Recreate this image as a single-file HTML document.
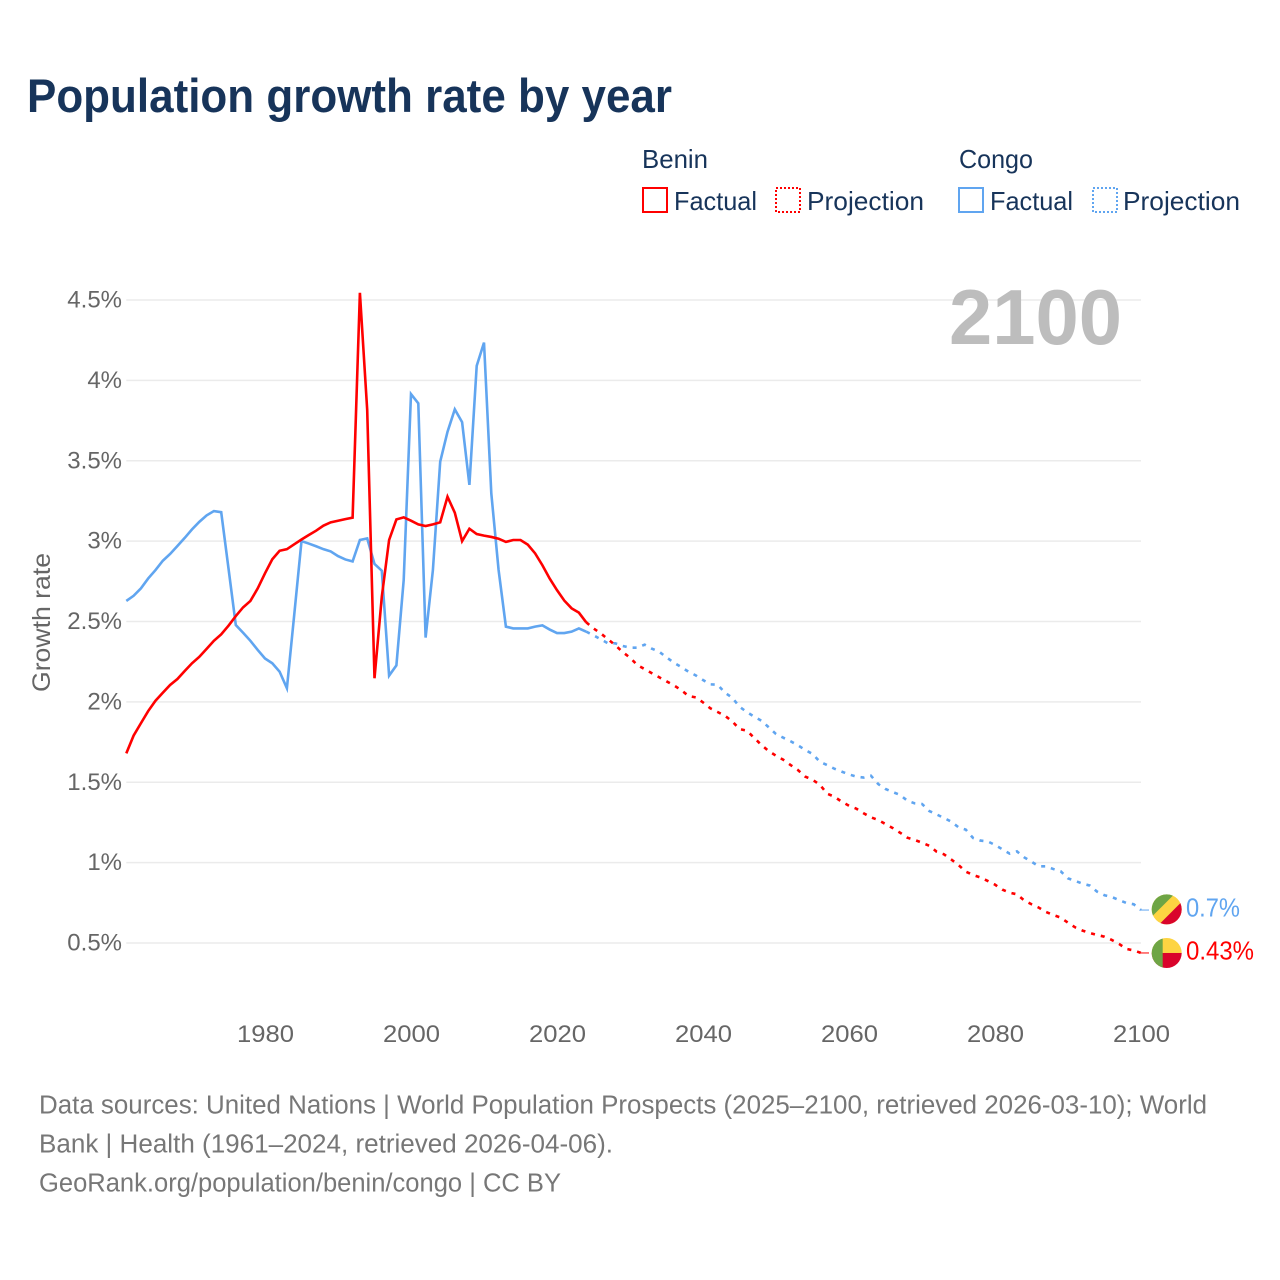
<!DOCTYPE html>
<html lang="en">
<head>
<meta charset="utf-8">
<title>Population growth rate by year</title>
<style>
  html, body { margin: 0; padding: 0; background: #fff; }
  svg { display: block; }
  text { font-family: "Liberation Sans", sans-serif; }
  .legend { fill: #17345a; font-size: 26px; }
  .tick { fill: #666; font-size: 24px; }
  .foot { fill: #777; font-size: 25.5px; }
</style>
</head>
<body>
<svg id="chart" width="1280" height="1280" viewBox="0 0 1280 1280" xmlns="http://www.w3.org/2000/svg">
  <defs>
    <clipPath id="flag-clip"><circle cx="0" cy="0" r="15"></circle></clipPath>
  </defs>
  <rect x="0" y="0" width="1280" height="1280" fill="#fff"></rect>

  <text x="27" y="112" font-size="47" font-weight="700" fill="#17345a" textLength="645" lengthAdjust="spacingAndGlyphs">Population growth rate by year</text>

  <g>
    <text class="legend" x="642" y="168" textLength="66" lengthAdjust="spacingAndGlyphs">Benin</text>
    <text class="legend" x="959" y="168" textLength="74" lengthAdjust="spacingAndGlyphs">Congo</text>
    <rect x="643" y="188" width="24" height="24" fill="none" stroke="#ff0000" stroke-width="2"></rect>
    <text class="legend" x="674" y="210" textLength="83" lengthAdjust="spacingAndGlyphs">Factual</text>
    <rect x="776" y="188" width="24" height="24" fill="none" stroke="#ff0000" stroke-width="2" stroke-dasharray="2 2"></rect>
    <text class="legend" x="807" y="210" textLength="117" lengthAdjust="spacingAndGlyphs">Projection</text>
    <rect x="959" y="188" width="24" height="24" fill="none" stroke="#60a5f0" stroke-width="2"></rect>
    <text class="legend" x="990" y="210" textLength="83" lengthAdjust="spacingAndGlyphs">Factual</text>
    <rect x="1093" y="188" width="24" height="24" fill="none" stroke="#60a5f0" stroke-width="2" stroke-dasharray="2 2"></rect>
    <text class="legend" x="1123" y="210" textLength="117" lengthAdjust="spacingAndGlyphs">Projection</text>
  </g>

  <g id="grid"></g>
  <g id="y-ticks"></g>
  <g id="x-ticks"></g>

  <text transform="translate(50 622.5) rotate(-90)" text-anchor="middle" font-size="25" fill="#666" textLength="139" lengthAdjust="spacingAndGlyphs">Growth rate</text>

  <text x="949" y="344" font-size="78" font-weight="700" fill="#bdbdbd" textLength="173" lengthAdjust="spacingAndGlyphs">2100</text>

  <g id="series"></g>

  <g id="flag-congo">
    <g clip-path="url(#flag-clip)">
      <rect x="-16" y="-16" width="32" height="32" fill="#fdd442"></rect>
      <polygon points="-20,12.5 12.5,-20 -20,-20" fill="#6ea545"></polygon>
      <polygon points="20,-12.5 -12.5,20 20,20" fill="#d9042b"></polygon>
    </g>
  </g>
  <g id="flag-benin">
    <g clip-path="url(#flag-clip)">
      <rect x="-16" y="-16" width="32" height="16" fill="#fdd442"></rect>
      <rect x="-16" y="0" width="32" height="16" fill="#d9042b"></rect>
      <rect x="-16" y="-16" width="12" height="32" fill="#6ea545"></rect>
    </g>
  </g>
  <text id="value-congo" x="1186" font-size="25.5" fill="#60a5f0" textLength="54" lengthAdjust="spacingAndGlyphs"></text>
  <text id="value-benin" x="1186" font-size="25.5" fill="#ff0000" textLength="68" lengthAdjust="spacingAndGlyphs"></text>

  <g>
    <text class="foot" x="39" y="1113.5" textLength="1168" lengthAdjust="spacingAndGlyphs">Data sources: United Nations | World Population Prospects (2025–2100, retrieved 2026-03-10); World</text>
    <text class="foot" x="39" y="1152.5" textLength="574" lengthAdjust="spacingAndGlyphs">Bank | Health (1961–2024, retrieved 2026-04-06).</text>
    <text class="foot" x="39" y="1191.5" textLength="522" lengthAdjust="spacingAndGlyphs">GeoRank.org/population/benin/congo | CC BY</text>
  </g>
</svg>

<script>
const factualStartYear = 1961;
const projectionStartYear = 2024;

const yTickValues = [0.5, 1, 1.5, 2, 2.5, 3, 3.5, 4, 4.5];
const yTickLabels = ["0.5%", "1%", "1.5%", "2%", "2.5%", "3%", "3.5%", "4%", "4.5%"];
const xTickYears = [1980, 2000, 2020, 2040, 2060, 2080, 2100];

const beninFactual = [
  1.68, 1.79, 1.867, 1.943, 2.007, 2.057, 2.105, 2.142, 2.192, 2.24,
  2.28, 2.33, 2.38, 2.42, 2.474, 2.534, 2.588, 2.628, 2.706, 2.80,
  2.887, 2.94, 2.95, 2.98, 3.01, 3.038, 3.065, 3.096, 3.117, 3.127,
  3.137, 3.146, 4.545, 3.816, 2.147, 2.654, 3.007, 3.135, 3.148, 3.127,
  3.104, 3.094, 3.104, 3.117, 3.276, 3.177, 3.0, 3.077, 3.044, 3.034,
  3.026, 3.015, 2.995, 3.007, 3.007, 2.978, 2.924, 2.85, 2.767, 2.695,
  2.63, 2.582, 2.555, 2.495
];

const congoFactual = [
  2.628, 2.66, 2.706, 2.768, 2.82, 2.878, 2.92, 2.97, 3.02, 3.073,
  3.12, 3.16, 3.187, 3.18, 2.83, 2.478, 2.43, 2.38, 2.323, 2.27,
  2.24, 2.188, 2.085, 2.54, 3.0, 2.985, 2.968, 2.95, 2.936, 2.907,
  2.886, 2.874, 3.007, 3.017, 2.858, 2.816, 2.163, 2.227, 2.758, 3.915,
  3.857, 2.40, 2.82, 3.494, 3.68, 3.82, 3.74, 3.35, 4.09, 4.235,
  3.297, 2.82, 2.468, 2.457, 2.457, 2.457, 2.468, 2.476, 2.45, 2.428,
  2.428, 2.437, 2.457, 2.437
];

const beninProjection = [
  2.495, 2.457, 2.426, 2.389, 2.352, 2.310, 2.275, 2.229, 2.204, 2.178,
  2.153, 2.128, 2.103, 2.074, 2.037, 2.028, 1.997, 1.960, 1.937, 1.914,
  1.879, 1.831, 1.821, 1.777, 1.732, 1.694, 1.665, 1.640, 1.607, 1.576,
  1.535, 1.516, 1.485, 1.429, 1.410, 1.379, 1.354, 1.336, 1.307, 1.282,
  1.265, 1.240, 1.215, 1.186, 1.155, 1.141, 1.124, 1.105, 1.068, 1.052,
  1.020, 0.985, 0.944, 0.923, 0.908, 0.886, 0.863, 0.832, 0.813, 0.803,
  0.765, 0.741, 0.720, 0.693, 0.674, 0.658, 0.626, 0.597, 0.577, 0.562,
  0.550, 0.539, 0.519, 0.494, 0.463, 0.454, 0.438
];

const congoProjection = [
  2.437, 2.414, 2.389, 2.364, 2.364, 2.348, 2.337, 2.337, 2.356, 2.331,
  2.312, 2.277, 2.244, 2.217, 2.188, 2.165, 2.136, 2.109, 2.107, 2.057,
  2.026, 1.970, 1.937, 1.908, 1.883, 1.842, 1.800, 1.777, 1.755, 1.730,
  1.701, 1.676, 1.628, 1.607, 1.584, 1.566, 1.549, 1.535, 1.529, 1.541,
  1.489, 1.458, 1.439, 1.421, 1.385, 1.369, 1.365, 1.321, 1.300, 1.278,
  1.255, 1.220, 1.205, 1.153, 1.137, 1.132, 1.110, 1.083, 1.056, 1.070,
  1.033, 1.006, 0.977, 0.977, 0.960, 0.946, 0.902, 0.886, 0.869, 0.857,
  0.819, 0.797, 0.786, 0.767, 0.749, 0.741, 0.705
];

const endValueLabels = ["0.43%", "0.7%"];

const SVG_NS = "http://www.w3.org/2000/svg";

function xScale(year) {
  return 126.3 + (year - 1961) * (1141 - 126.3) / (2100 - 1961);
}
function yScale(value) {
  return 943 - (value - 0.5) * (943 - 300) / (4.5 - 0.5);
}
function linePath(values, startYear) {
  return values.map(function (v, i) {
    return (i === 0 ? "M" : "L") + xScale(startYear + i).toFixed(2) + " " + yScale(v).toFixed(2);
  }).join(" ");
}

const gridGroup = document.getElementById("grid");
const yTickGroup = document.getElementById("y-ticks");
yTickValues.forEach(function (v, i) {
  const line = document.createElementNS(SVG_NS, "line");
  
  
  line.setAttribute("x1", xScale(1961));
  line.setAttribute("x2", xScale(2100));
  line.setAttribute("y1", yScale(v));
  line.setAttribute("y2", yScale(v));
  line.setAttribute("stroke", "#ebebeb");
  line.setAttribute("stroke-width", "1.5");
  gridGroup.appendChild(line);

  const label = document.createElementNS(SVG_NS, "text");
  
  
  label.setAttribute("class", "tick");
  label.setAttribute("x", "122");
  label.setAttribute("y", yScale(v) + 7.5);
  label.setAttribute("text-anchor", "end");
  label.textContent = yTickLabels[i];
  yTickGroup.appendChild(label);
});

const xTickGroup = document.getElementById("x-ticks");
xTickYears.forEach(function (year) {
  const label = document.createElementNS(SVG_NS, "text");
  
  
  label.setAttribute("class", "tick");
  label.setAttribute("x", xScale(year) + 0.5);
  label.setAttribute("y", "1042");
  label.setAttribute("text-anchor", "middle");
  label.setAttribute("textLength", "57");
  label.setAttribute("lengthAdjust", "spacingAndGlyphs");
  label.textContent = year;
  xTickGroup.appendChild(label);
});

const seriesGroup = document.getElementById("series");

const congoFactualLine = document.createElementNS(SVG_NS, "path");


congoFactualLine.setAttribute("d", linePath(congoFactual, factualStartYear));
congoFactualLine.setAttribute("fill", "none");
congoFactualLine.setAttribute("stroke", "#60a5f0");
congoFactualLine.setAttribute("stroke-width", "2.6");
congoFactualLine.setAttribute("stroke-linejoin", "miter");
seriesGroup.appendChild(congoFactualLine);

const beninFactualLine = document.createElementNS(SVG_NS, "path");


beninFactualLine.setAttribute("d", linePath(beninFactual, factualStartYear));
beninFactualLine.setAttribute("fill", "none");
beninFactualLine.setAttribute("stroke", "#ff0000");
beninFactualLine.setAttribute("stroke-width", "2.6");
beninFactualLine.setAttribute("stroke-linejoin", "miter");
seriesGroup.appendChild(beninFactualLine);

const congoProjectionLine = document.createElementNS(SVG_NS, "path");


congoProjectionLine.setAttribute("d", linePath(congoProjection, projectionStartYear));
congoProjectionLine.setAttribute("fill", "none");
congoProjectionLine.setAttribute("stroke", "#60a5f0");
congoProjectionLine.setAttribute("stroke-width", "2.6");
congoProjectionLine.setAttribute("stroke-dasharray", "4 6");
seriesGroup.appendChild(congoProjectionLine);

const beninProjectionLine = document.createElementNS(SVG_NS, "path");


beninProjectionLine.setAttribute("d", linePath(beninProjection, projectionStartYear));
beninProjectionLine.setAttribute("fill", "none");
beninProjectionLine.setAttribute("stroke", "#ff0000");
beninProjectionLine.setAttribute("stroke-width", "2.6");
beninProjectionLine.setAttribute("stroke-dasharray", "4 6");
seriesGroup.appendChild(beninProjectionLine);

const congoLast = yScale(congoProjection[congoProjection.length - 1]);
const beninLast = yScale(beninProjection[beninProjection.length - 1]);

const congoConnector = document.createElementNS(SVG_NS, "line");


congoConnector.setAttribute("x1", xScale(2100));
congoConnector.setAttribute("x2", xScale(2100) + 8);
congoConnector.setAttribute("y1", congoLast);
congoConnector.setAttribute("y2", congoLast);
congoConnector.setAttribute("stroke", "#60a5f0");
congoConnector.setAttribute("stroke-width", "1");
seriesGroup.appendChild(congoConnector);

const beninConnector = document.createElementNS(SVG_NS, "line");


beninConnector.setAttribute("x1", xScale(2100));
beninConnector.setAttribute("x2", xScale(2100) + 8);
beninConnector.setAttribute("y1", beninLast);
beninConnector.setAttribute("y2", beninLast);
beninConnector.setAttribute("stroke", "#ff0000");
beninConnector.setAttribute("stroke-width", "1");
seriesGroup.appendChild(beninConnector);

document.getElementById("flag-congo").setAttribute("transform", "translate(" + (xScale(2100) + 25.7) + " " + (congoLast - 0.7) + ")");
document.getElementById("flag-benin").setAttribute("transform", "translate(" + (xScale(2100) + 25.7) + " " + beninLast + ")");

const valueCongo = document.getElementById("value-congo");
valueCongo.setAttribute("y", congoLast + 6.5);
valueCongo.textContent = endValueLabels[1];

const valueBenin = document.getElementById("value-benin");
valueBenin.setAttribute("y", beninLast + 6.5);
valueBenin.textContent = endValueLabels[0];
</script>
</body>
</html>
